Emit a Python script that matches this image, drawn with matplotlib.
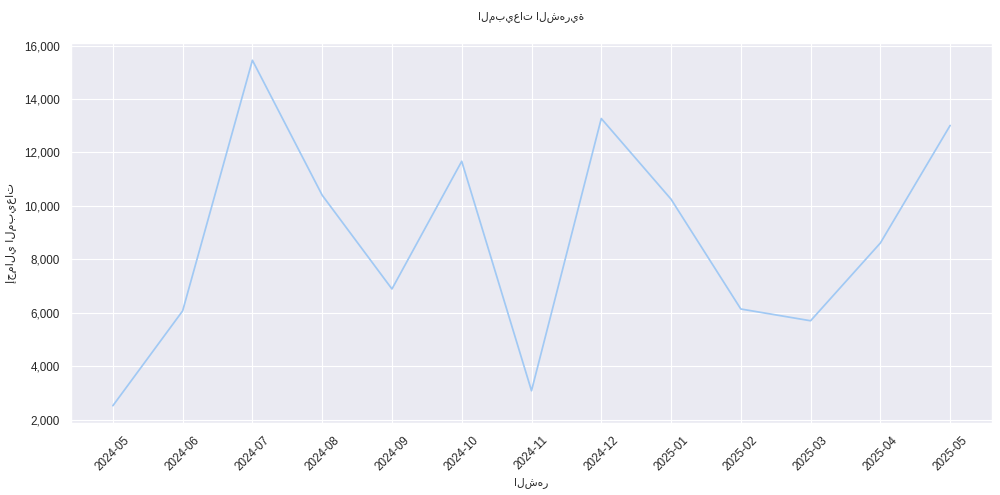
import matplotlib
matplotlib.use("Agg")
import matplotlib.pyplot as plt
import matplotlib.ticker as mticker
import seaborn as sns

months = ["2024-05", "2024-06", "2024-07", "2024-08", "2024-09", "2024-10", "2024-11",
          "2024-12", "2025-01", "2025-02", "2025-03", "2025-04", "2025-05"]
sales = [2520, 6070, 15450, 10400, 6890, 11670, 3080, 13270, 10250, 6140, 5700, 8610, 13010]

sns.set_theme(style="darkgrid", palette="pastel")
plt.rcParams['font.family'] = ['Liberation Sans', 'DejaVu Sans']

DPI = 1000 / 12
fig, ax = plt.subplots(figsize=(12, 5.94), dpi=DPI)
fig.subplots_adjust(left=0.071, right=0.992, top=1 - 43 / 495, bottom=1 - 423 / 495)
ax.plot(months, sales, color=sns.color_palette("pastel")[0], linewidth=1.5)
ax.set_title("المبيعات الشهرية", fontsize=9.2, pad=20)
ax.set_xlabel("الشهر", fontsize=9.2, labelpad=4)
ax.set_ylabel("إجمالي المبيعات", fontsize=9.8, labelpad=6)
ax.yaxis.set_major_formatter(mticker.FuncFormatter(lambda v, p: f"{int(v):,}"))
plt.setp(ax.get_xticklabels(), rotation=45)
ax.tick_params(labelsize=10)
fig.savefig("out.png", dpi=DPI)
